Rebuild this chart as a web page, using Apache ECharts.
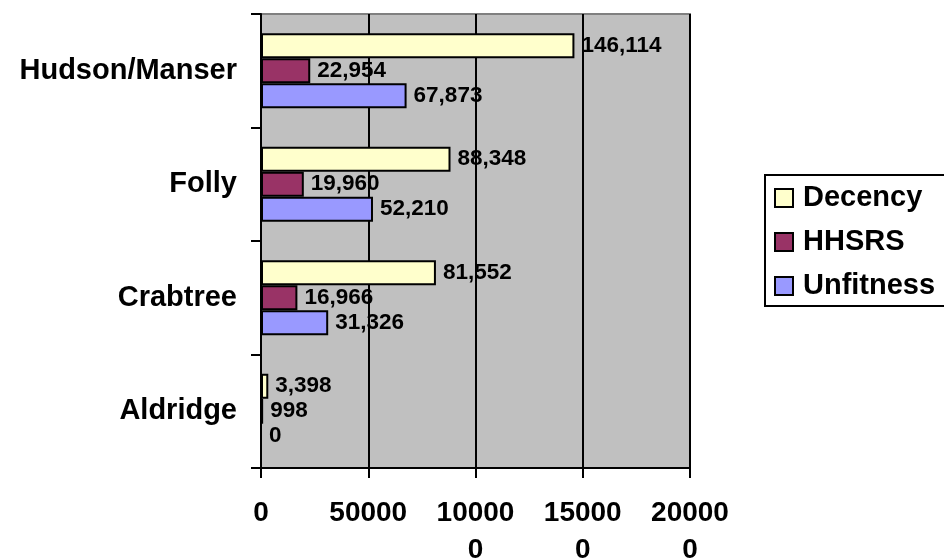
<!DOCTYPE html>
<html>
<head>
<meta charset="utf-8">
<script src="https://cdn.jsdelivr.net/npm/echarts@6/dist/echarts.min.js"></script>
<style>
  html, body { margin: 0; padding: 0; background: #fff; }
  #chart { width: 944px; height: 560px; }
</style>
</head>
<body>
<div id="chart"></div>
<script>
// Areas, bottom to top along the category axis
const categories = ['Aldridge', 'Crabtree', 'Folly', 'Hudson/Manser'];

// Counts per area, same order as categories
const decency   = [3398, 81552, 88348, 146114];
const hhsrs     = [998, 16966, 19960, 22954];
const unfitness = [0, 31326, 52210, 67873];

// Value-axis tick labels (long ones wrap onto a second line)
const tickValues = [0, 50000, 100000, 150000, 200000];
const tickLabels = ['0', '50000', '10000\n0', '15000\n0', '20000\n0'];

const FONT = 'Arial, "Liberation Sans", sans-serif';

const fmt = v => v.toLocaleString('en-US');

function barSeries(name, data, color) {
  return {
    name: name,
    type: 'bar',
    data: data,
    barGap: '0%',
    barCategoryGap: '34%',
    itemStyle: { color: color, borderColor: '#000', borderWidth: 2 },
    label: {
      show: true,
      position: 'right',
      distance: 7,
      color: '#000',
      fontFamily: FONT,
      fontWeight: 'bold',
      fontSize: 22.5,
      formatter: p => fmt(p.value)
    },
    emphasis: { disabled: true },
    animation: false
  };
}

const chart = echarts.init(document.getElementById('chart'), null, { renderer: 'canvas' });

chart.setOption({
  backgroundColor: '#fff',
  animation: false,
  grid: {
    left: 261, right: 254, top: 14, bottom: 92,
    outerBoundsMode: 'none',
    containLabel: false,
    show: true,
    backgroundColor: '#C0C0C0',
    borderColor: '#808080',
    borderWidth: 2
  },
  legend: {
    orient: 'vertical',
    left: 765,
    top: 175,
    data: ['Decency', 'HHSRS', 'Unfitness'],
    icon: 'rect',
    itemWidth: 18,
    itemHeight: 18,
    itemGap: 10,
    padding: [6, 12, 3, 9],
    borderColor: '#000',
    borderWidth: 2,
    backgroundColor: '#fff',
    itemStyle: { borderColor: '#000', borderWidth: 2 },
    textStyle: {
      fontFamily: FONT,
      fontWeight: 'bold',
      fontSize: 29,
      lineHeight: 34,
      color: '#000',
      padding: [0, 0, 0, 5]
    },
    selectedMode: false
  },
  xAxis: {
    type: 'value',
    min: 0,
    max: 200000,
    interval: 50000,
    axisLine: { show: true, lineStyle: { color: '#000', width: 2 } },
    axisTick: { show: true, length: 10, lineStyle: { color: '#000', width: 2 } },
    splitLine: { show: true, lineStyle: { color: '#000', width: 2 } },
    axisLabel: {
      margin: 27,
      color: '#000',
      fontFamily: FONT,
      fontWeight: 'bold',
      fontSize: 28,
      lineHeight: 37,
      formatter: v => {
        const i = tickValues.indexOf(v);
        return i >= 0 ? tickLabels[i] : '';
      }
    }
  },
  yAxis: {
    type: 'category',
    data: categories,
    axisLine: { show: true, lineStyle: { color: '#000', width: 2 } },
    axisTick: { show: true, length: 10, lineStyle: { color: '#000', width: 2 } },
    splitLine: { show: false },
    axisLabel: {
      margin: 24,
      color: '#000',
      fontFamily: FONT,
      fontWeight: 'bold',
      fontSize: 29
    }
  },
  series: [
    barSeries('Decency', decency, '#FFFFCC'),
    barSeries('HHSRS', hhsrs, '#993366'),
    barSeries('Unfitness', unfitness, '#9999FF')
  ]
});
</script>
</body>
</html>
